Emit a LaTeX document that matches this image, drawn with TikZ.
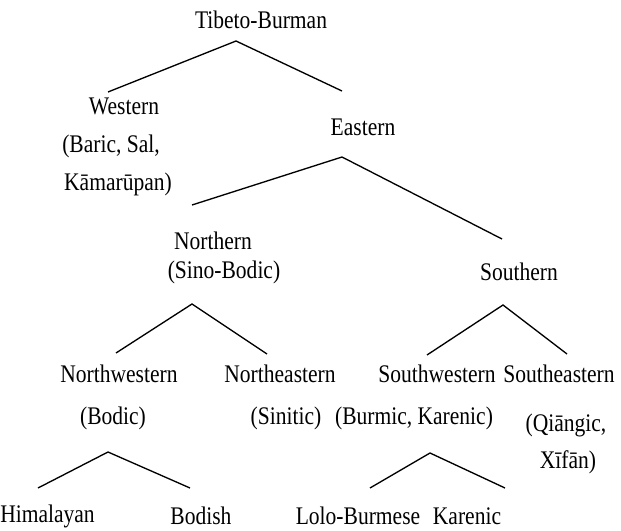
\documentclass[tikz,border=0pt]{standalone}
\usepackage{fontspec}
\setmainfont{Liberation Serif}[FakeStretch=0.85]
\begin{document}
\begin{tikzpicture}[x=0.75pt,y=-0.75pt,
  lbl/.style={inner sep=0pt,font=\fontsize{19}{22}\selectfont},
  edge/.style={line width=1pt}]
\useasboundingbox (0,0) rectangle (621,531);
% texts
\node[lbl] (tb) at (261,20) {Tibeto-Burman};
\node[lbl] (west) at (124,106) {Western};
\node[lbl] (baric) at (111,146) {(Baric, Sal,};
\node[lbl] (kama) at (118,184) {Kāmarūpan)};
\node[lbl] (east) at (363,127) {Eastern};
\node[lbl] (north) at (213,241) {Northern};
\node[lbl] (sinobodic) at (224,272) {(Sino-Bodic)};
\node[lbl] (south) at (519,272) {Southern};
\node[lbl] (nw) at (119,374) {Northwestern};
\node[lbl] (ne) at (280,374) {Northeastern};
\node[lbl] (sw) at (437,374) {Southwestern};
\node[lbl] (se) at (559,374) {Southeastern};
\node[lbl] (bodic) at (113,418) {(Bodic)};
\node[lbl] (sinitic) at (286,418) {(Sinitic)};
\node[lbl] (burmic) at (414,418) {(Burmic, Karenic)};
\node[lbl] (qiang) at (566,425) {(Qiāngic,};
\node[lbl] (xifan) at (568,462) {Xīfān)};
\node[lbl,anchor=west] (him) at (0,516) {Himalayan};
\node[lbl] (bodish) at (201,516) {Bodish};
\node[lbl] (lolo) at (358,516) {Lolo-Burmese};
\node[lbl] (karenic) at (467,516) {Karenic};
% connector points
\coordinate (tbA) at (236,41);
\coordinate (tbL) at (108,92);
\coordinate (tbR) at (342,91);
\coordinate (eA) at (342,157);
\coordinate (eL) at (192,205);
\coordinate (eR) at (502,239);
\coordinate (nA) at (192,304);
\coordinate (nL) at (116,353);
\coordinate (nR) at (267,354);
\coordinate (sA) at (503,305);
\coordinate (sL) at (427,355);
\coordinate (sR) at (567,354);
\coordinate (nwA) at (108,452);
\coordinate (nwL) at (38,488);
\coordinate (nwR) at (190,488);
\coordinate (swA) at (430,453);
\coordinate (swL) at (370,488);
\coordinate (swR) at (505,488);
\draw[edge] (tbL) -- (tbA) -- (tbR);
\draw[edge] (eL) -- (eA) -- (eR);
\draw[edge] (nL) -- (nA) -- (nR);
\draw[edge] (sL) -- (sA) -- (sR);
\draw[edge] (nwL) -- (nwA) -- (nwR);
\draw[edge] (swL) -- (swA) -- (swR);
\end{tikzpicture}
\end{document}
